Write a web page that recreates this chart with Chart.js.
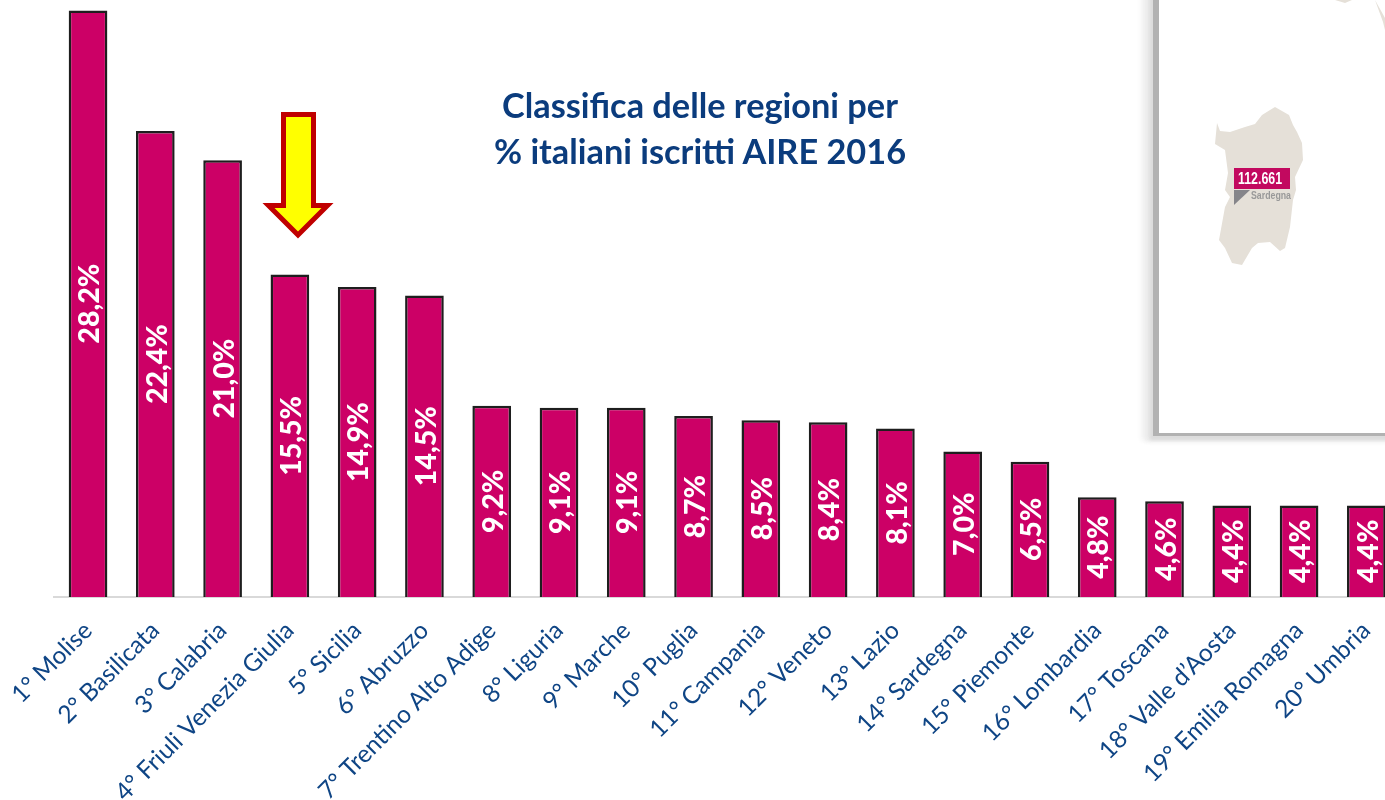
<!DOCTYPE html>
<html lang="it">
<head>
<meta charset="utf-8">
<title>Classifica delle regioni per % italiani iscritti AIRE 2016</title>
<script src="https://cdn.jsdelivr.net/npm/chart.js@4/dist/chart.umd.min.js"></script>
<style>
html,body{margin:0;padding:0;background:#fff;overflow:hidden;width:1385px;height:800px}
#wrap{position:relative;width:1385px;height:800px;overflow:hidden}
#c{position:absolute;left:0;top:0}
#title{position:absolute;left:400px;top:82px;width:600px;text-align:center;color:#0b3c7d;
 font:700 34.3px/46px Lato,sans-serif}
#panel{position:absolute;left:1159px;top:-20px;width:260px;height:453px;background:#fff;
 box-shadow:-6px 3px 0 #b2b2b2,-9px 7px 3px #dcdcdc,-13px 8px 5px #e8e8e8,-18px 8px 5px #f3f3f3}
#map,#arrow{position:absolute;left:0;top:0}
</style>
</head>
<body>
<div id="wrap">
<canvas id="c" width="1400" height="800"></canvas>
<div id="panel"></div>
<svg id="map" width="1385" height="800" viewBox="0 0 1385 800">
 <g fill="#e5e0d8">
  <polygon points="1217,123 1220,131 1230,132 1245,127 1255,124 1262,115 1275,107 1289,115 1293,125 1297,132 1302,143 1303,160 1295,177 1296,190 1293,200 1290,227 1285,248 1280,251 1270,242 1258,243 1252,248 1242,265 1232,263 1225,248 1219,240 1225,207 1230,197 1225,190 1228,173 1225,150 1215,144"/>
  <polygon points="1335,0 1345,3 1352,0"/>
  <polygon points="1375,0 1385,18 1385,30 1383,22"/>
 </g>
 <rect x="1234" y="168" width="56" height="21" fill="#c2095f"/>
 <polygon points="1234,190 1250,190 1234,205" fill="#85858a"/>
 <text x="1238" y="184" textLength="44" lengthAdjust="spacingAndGlyphs" fill="#fff" font-family="Liberation Sans" font-weight="700" font-size="16">112.661</text>
 <text x="1251" y="199" textLength="40" lengthAdjust="spacingAndGlyphs" fill="#999" font-family="Liberation Sans" font-weight="700" font-size="10.5">Sardegna</text>
</svg>
<svg id="arrow" width="1385" height="800" viewBox="0 0 1385 800">
 <polygon points="283.5,114.5 313.5,114.5 313.5,205.5 327.5,205.5 298,235 268.5,205.5 283.5,205.5" fill="#ffff00" stroke="#c00000" stroke-width="5" stroke-linejoin="miter"/>
</svg>
<div id="title">Classifica delle regioni per<br>% italiani iscritti AIRE 2016</div>
</div>
<script>
const categories = ["1° Molise","2° Basilicata","3° Calabria","4° Friuli Venezia Giulia","5° Sicilia","6° Abruzzo","7° Trentino Alto Adige","8° Liguria","9° Marche","10° Puglia","11° Campania","12° Veneto","13° Lazio","14° Sardegna","15° Piemonte","16° Lombardia","17° Toscana","18° Valle d’Aosta","19° Emilia Romagna","20° Umbria"];
const values = [28.2,22.4,21.0,15.5,14.9,14.5,9.2,9.1,9.1,8.7,8.5,8.4,8.1,7.0,6.5,4.8,4.6,4.4,4.4,4.4];
const valueLabels = ["28,2%","22,4%","21,0%","15,5%","14,9%","14,5%","9,2%","9,1%","9,1%","8,7%","8,5%","8,4%","8,1%","7,0%","6,5%","4,8%","4,6%","4,4%","4,4%","4,4%"];

const barLabels = {
  id:'barLabels',
  afterDatasetsDraw(chart){
    const {ctx} = chart;
    chart.getDatasetMeta(0).data.forEach((bar,i)=>{
      ctx.save();
      ctx.translate(bar.x+2,(bar.y+bar.base)/2);
      ctx.rotate(-Math.PI/2);
      ctx.fillStyle='#fff';
      ctx.font='900 28.5px Lato, sans-serif';
      ctx.textAlign='center';
      ctx.textBaseline='middle';
      ctx.fillText(valueLabels[i],0,0);
      ctx.restore();
    });
  }
};

new Chart(document.getElementById('c'),{
  type:'bar',
  data:{labels:categories,datasets:[{data:values,backgroundColor:'#cc0066',borderColor:'#1e1e1e',borderWidth:2.5,
    categoryPercentage:1,barPercentage:0.575}]},
  plugins:[barLabels],
  options:{
    responsive:false,animation:false,
    layout:{padding:{left:54.4,right:0,top:0,bottom:0}},
    plugins:{legend:{display:false},tooltip:{enabled:false},title:{display:false}},
    scales:{
      y:{display:false,min:0,max:28.7},
      x:{
        grid:{display:false,drawTicks:false},
        border:{color:'#d9d9d9',width:2},
        afterFit(s){s.height=203;s.paddingLeft=0;s.paddingRight=0;},
        ticks:{autoSkip:false,maxRotation:45,minRotation:45,color:'#0f4585',padding:19,
          font:{family:'Lato, sans-serif',size:24.5}}
      }
    }
  }
});
</script>
</body>
</html>
